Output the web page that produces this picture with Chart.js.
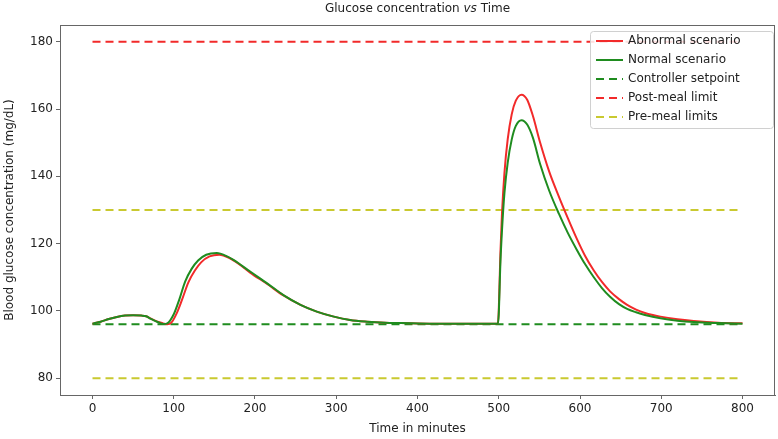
<!DOCTYPE html>
<html>
<head>
<meta charset="utf-8">
<script src="https://cdn.jsdelivr.net/npm/chart.js@4.4.0/dist/chart.umd.min.js"></script>
<style>
  html, body { margin: 0; padding: 0; background: #fff; }
  #wrap { width: 778px; height: 439px; position: relative; }
</style>
</head>
<body>
<div id="wrap"><canvas id="chart" width="778" height="439"></canvas></div>
<script>
// data
const timeNormal = [0, 10, 20, 30, 40, 50, 60, 66, 72, 80, 87, 92, 100, 107, 114, 122, 130, 140, 153, 165, 174, 194, 215, 235, 256, 276, 297, 317, 338, 360, 379, 420, 460, 499,
  500, 502, 504, 507, 511, 516, 521, 528, 535, 542, 551, 562, 574, 585, 596, 606, 617, 627, 637, 648, 658, 669, 680, 699, 720, 740, 770, 800];
const glucoseNormal = [96.2, 96.8, 97.6, 98.2, 98.6, 98.7, 98.6, 98.4, 97.6, 96.7, 96.1, 96.3, 99, 103.5, 108.7, 112.5, 115, 116.7, 117.2, 116.3, 115.1, 111.7, 108.2, 104.7, 101.8, 99.8, 98.3, 97.3, 96.8, 96.5, 96.4, 96.2, 96.2, 96.2,
  99, 114, 124, 135, 144, 151, 155, 156.7, 155.4, 151.5, 143.6, 135.8, 128.9, 123.2, 118.2, 114.0, 110.0, 106.8, 104.2, 102.0, 100.6, 99.6, 98.8, 97.8, 97.1, 96.7, 96.4, 96.2];

const timeAbnormal = [0, 10, 20, 30, 40, 50, 60, 66, 72, 80, 87, 92, 97, 104, 110, 118, 126, 134, 144, 156, 168, 180, 194, 215, 235, 256, 276, 297, 317, 338, 360, 379, 420, 460, 499,
  500, 502, 504, 507, 511, 516, 521, 528, 535, 542, 551, 562, 574, 585, 596, 606, 617, 627, 637, 648, 658, 669, 680, 699, 720, 740, 770, 800];
const glucoseAbnormal = [96.2, 96.8, 97.6, 98.2, 98.6, 98.7, 98.6, 98.4, 97.7, 96.8, 96.3, 96.0, 96.5, 99.5, 103.2, 108.5, 112, 114.5, 116.2, 116.7, 115.8, 114, 111.4, 108, 104.6, 101.8, 99.8, 98.3, 97.3, 96.8, 96.5, 96.4, 96.2, 96.2, 96.2,
  100, 117, 129, 141, 151, 158.5, 162.5, 164.3, 162.8, 158, 150, 141.5, 134, 127.6, 121.5, 116.5, 112, 108.6, 105.8, 103.5, 101.8, 100.4, 99.4, 98.3, 97.5, 97.0, 96.5, 96.3];

const limitTimes = [0, 800];
const setpoint = 96;
const postMealLimit = 180;
const preMealLimits = [80, 130];

const xTicks = [0, 100, 200, 300, 400, 500, 600, 700, 800];
const yTicks = [80, 100, 120, 140, 160, 180];

const legendLabels = ["Abnormal scenario", "Normal scenario", "Controller setpoint", "Post-meal limit", "Pre-meal limits"];

// colours
const red = "#f22a2a";
const green = "#1f8c1f";
const yellow = "#c9c930";
const dash = [8, 5];
const FONT = "'DejaVu Sans', sans-serif";

const toPts = (xs, ys) => xs.map((x, i) => ({ x: x, y: ys[i] }));
const flat = (v) => limitTimes.map(t => ({ x: t, y: v }));

// title + legend + frame drawn on top
const extras = {
  id: "extras",
  afterDraw(chart) {
    const c = chart.ctx;
    const a = chart.chartArea;
    c.save();
    // frame round the axes
    c.strokeStyle = "#666";
    c.lineWidth = 1;
    c.strokeRect(Math.round(a.left) + 0.5, Math.round(a.top) + 0.5, Math.round(a.right - a.left) - 1, Math.round(a.bottom - a.top));

    // title with italic "vs"
    c.fillStyle = "#222";
    c.textBaseline = "middle";
    const p1 = "Glucose concentration ", p2 = "vs", p3 = " Time";
    c.font = "12px " + FONT;
    let w1 = c.measureText(p1).width, w3 = c.measureText(p3).width;
    c.font = "italic 12px " + FONT;
    let w2 = c.measureText(p2).width;
    let x = (a.left + a.right) / 2 - (w1 + w2 + w3) / 2;
    c.font = "12px " + FONT;
    c.textAlign = "left";
    c.fillText(p1, x, 9);
    c.font = "italic 12px " + FONT;
    c.fillText(p2, x + w1, 9);
    c.font = "12px " + FONT;
    c.fillText(p3, x + w1 + w2, 9);

    // legend box
    const bx = 590, by = 31, bw = 183, bh = 97;
    c.fillStyle = "rgba(255,255,255,0.85)";
    c.strokeStyle = "#d0d0d0";
    c.beginPath();
    c.roundRect(bx + 0.5, by + 0.5, bw, bh, 3);
    c.fill();
    c.stroke();
    const styles = [[red, []], [green, []], [green, dash], [red, dash], [yellow, dash]];
    legendLabels.forEach((lab, i) => {
      const y = 41 + i * 19;
      c.strokeStyle = styles[i][0];
      c.setLineDash(styles[i][1]);
      c.lineWidth = 2;
      c.beginPath();
      c.moveTo(596, y);
      c.lineTo(623, y);
      c.stroke();
      c.setLineDash([]);
      c.fillStyle = "#222";
      c.font = "12px " + FONT;
      c.fillText(lab, 628, y);
    });
    c.restore();
  }
};

Chart.defaults.font.family = FONT;
Chart.defaults.font.size = 12;
Chart.defaults.color = "#222";

const ctx = document.getElementById("chart").getContext("2d");
new Chart(ctx, {
  type: "line",
  data: {
    datasets: [{
      label: "Normal scenario",
      data: toPts(timeNormal, glucoseNormal),
      borderColor: green,
      borderWidth: 2,
      cubicInterpolationMode: "monotone"
    }, {
      label: "Abnormal scenario",
      data: toPts(timeAbnormal, glucoseAbnormal),
      borderColor: red,
      borderWidth: 2,
      cubicInterpolationMode: "monotone"
    }, {
      label: "Controller setpoint",
      data: flat(setpoint),
      borderColor: green,
      borderWidth: 2,
      borderDash: dash
    }, {
      label: "Post-meal limit",
      data: flat(postMealLimit),
      borderColor: red,
      borderWidth: 2,
      borderDash: dash
    }, {
      label: "Pre-meal limits",
      data: flat(preMealLimits[1]),
      borderColor: yellow,
      borderWidth: 2,
      borderDash: dash
    }, {
      label: "Pre-meal limits (low)",
      data: flat(preMealLimits[0]),
      borderColor: yellow,
      borderWidth: 2,
      borderDash: dash
    }]
  },
  options: {
    responsive: false,
    animation: false,
    elements: { point: { radius: 0 } },
    layout: { padding: { top: 25, left: 0, right: 3, bottom: 0 } },
    plugins: {
      legend: { display: false },
      tooltip: { enabled: false }
    },
    scales: {
      x: {
        type: "linear",
        min: -40,
        max: 840,
        afterFit: (s) => { s.height = 44; },
        afterBuildTicks: (s) => { s.ticks = xTicks.map(v => ({ value: v })); },
        grid: { drawOnChartArea: false, drawTicks: true, tickLength: 4, color: "#666" },
        border: { display: true, color: "#666" },
        ticks: { padding: 3, maxRotation: 0, autoSkip: false },
        title: { display: true, text: "Time in minutes", padding: { top: 0, bottom: 3 } }
      },
      y: {
        type: "linear",
        min: 75,
        max: 185,
        afterFit: (s) => { s.width = 60; },
        afterBuildTicks: (s) => { s.ticks = yTicks.map(v => ({ value: v })); },
        grid: { drawOnChartArea: false, drawTicks: true, tickLength: 4, color: "#666" },
        border: { display: true, color: "#666" },
        ticks: { padding: 3, autoSkip: false },
        title: { display: true, text: "Blood glucose concentration (mg/dL)", padding: { top: 3, bottom: 0 } }
      }
    }
  },
  plugins: [extras]
});
</script>
</body>
</html>
